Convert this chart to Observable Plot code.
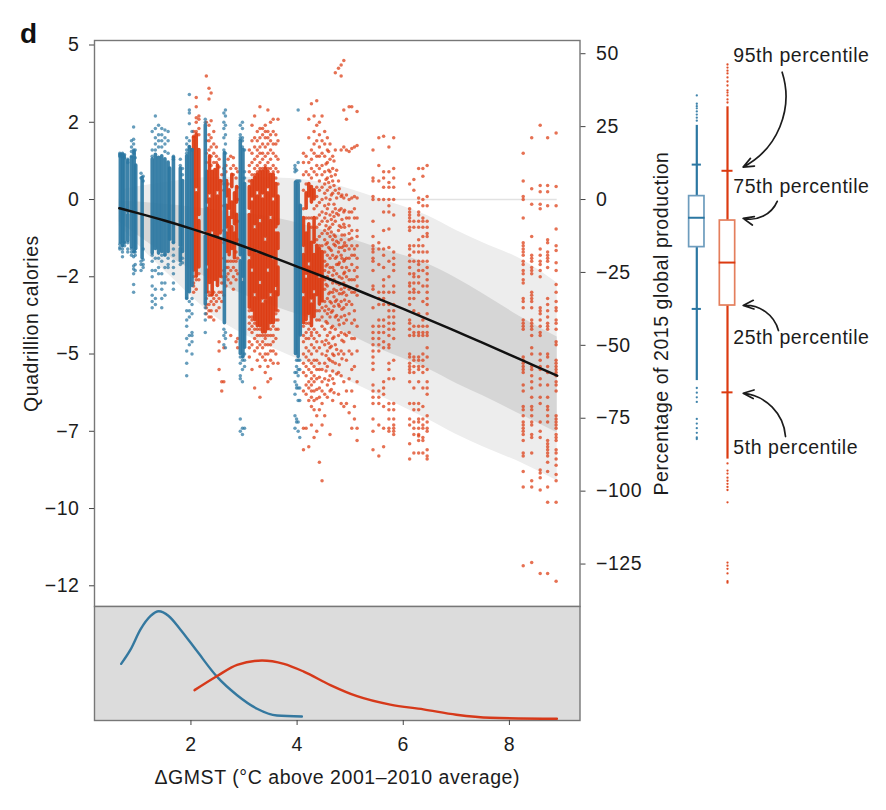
<!DOCTYPE html>
<html><head><meta charset="utf-8">
<script src="https://cdn.jsdelivr.net/npm/d3@7"></script>
<script src="https://cdn.jsdelivr.net/npm/@observablehq/plot@0.6"></script>
<style>
html,body{margin:0;background:#fff}
#chart{position:relative;width:886px;height:810px;overflow:hidden}
#chart svg{position:absolute;left:0;overflow:visible;background:transparent;letter-spacing:.55px}
#panel{position:absolute;left:20px;top:18px;font:bold 28px "Liberation Sans",sans-serif;color:#111}
</style></head><body>
<div id="chart"><div id="panel">d</div></div>
<script>
const blue="#2b77a2", red="#dc3a10", ink="#1c1c1c", edge="#777777";
const bandX=[.65,1.5,2.5,3.6,4.63,5.5,6.45,7,7.5,8.26,8.9];
const outerTop=[.3,.55,.72,.7,.5,.05,-.52,-1,-1.4,-1.97,-2.7];
const darkTop=[-.05,-.15,-.35,-.6,-1.07,-1.55,-2.08,-2.55,-3.05,-3.85,-4.45];
const darkBottom=[-.73,-1.75,-2.7,-3.48,-4.08,-4.8,-5.47,-5.95,-6.35,-7,-7.55];
const outerBottom=[-.85,-2.3,-3.85,-4.85,-5.6,-6.3,-7.1,-7.6,-8,-8.55,-9.1];
const fitX=[.65,1,1.5,2,2.5,3,3.5,4,4.5,5,5.5,6,6.5,7,7.5,8,8.5,8.9];
const fitY=[-.28,-.44,-.68,-.94,-1.22,-1.52,-1.84,-2.17,-2.5,-2.84,-3.19,-3.54,-3.9,-4.27,-4.64,-5.02,-5.4,-5.7];
// runs of overlapping points along one column: x, y top, y bottom
const blueRuns=[[.67,1.45,-1.4],[.71,1.45,-1.5],[.74,1.4,-1.4],[.81,1.25,-.4],[.81,-.5,-1.35],[.88,1.35,-1.55],[.93,1.55,-1.7],[.96,1.1,-1.6],[1.08,.7,-1.9],
[1.27,1.3,-1.75],[1.33,1.45,-1.6],[1.39,1.35,-1.75],[1.45,1.4,-1.7],[1.51,1.3,-1.8],[1.57,1.2,-1.7],[1.6,1,-1.3],[1.67,1.35,-1.4],[1.8,1,-1.5],[1.8,-1.6,-2],[1.84,.6,-1.7],
[1.92,1.4,-3.2],[1.97,1.7,-3],[2.02,1.6,-2.8],[2.27,2.4,-1],[2.27,-1.2,-3.4],[2.63,1.5,-4],[2.93,1.9,-1.8],[2.93,-2,-5],[2.98,1.6,-2.5],[2.98,-2.7,-5.1],[3.01,.5,-4.8],[3.97,.55,-5],[4.02,.5,-5.1],[4.06,-.2,-4.4]];
const redRuns=[[2.05,2,-2.3],[2.1,2.1,.4],[2.1,.2,-2.5],[2.15,1.6,-.5],[2.15,-.7,-2.2],
[2.3,.9,-.1],[2.3,-.3,-2.1],[2.3,-2.3,-3],[2.35,1.4,.2],[2.35,0,-2.7],[2.4,.9,-1],[2.4,-1.2,-3.1],[2.45,.95,-2.6],[2.5,1.1,.3],[2.5,.1,-2.8],[2.55,.6,-1.1],[2.55,-1.3,-2.5],
[2.67,.6,.1],[2.67,-.2,-.9],[2.67,-1.1,-1.7],[2.72,.3,-.3],[2.72,-.6,-1.8],[2.77,.8,.4],[2.77,-.1,-.6],[2.77,-.9,-1.6],[2.82,.2,-.8],[2.82,-1.1,-1.9],[2.86,.4,-.1],[2.86,-.5,-1.4],
[3.1,.4,-.3],[3.1,-.5,-1.8],[3.1,-2,-3.5],[3.15,.6,.1],[3.15,-.1,-2.2],[3.15,-2.4,-3.6],[3.2,.7,-.8],[3.2,-1,-3],[3.2,-3.2,-3.9],[3.25,.8,.3],[3.25,.1,-1.6],[3.25,-1.8,-4.1],[3.3,.9,-.6],[3.3,-.8,-2.6],[3.3,-2.8,-4.1],[3.35,.9,.2],[3.35,0,-3.2],[3.35,-3.4,-4.3],[3.4,1,-1.2],[3.4,-1.4,-3.2],[3.4,-3.3,-4.3],[3.45,.9,.4],[3.45,.2,-2.2],[3.45,-2.4,-4.2],[3.5,.8,-.5],[3.5,-.7,-3],[3.5,-3.2,-4],[3.55,.8,.1],[3.55,-.1,-1.8],[3.55,-2,-4],[3.6,.5,-.9],[3.6,-1.1,-2.8],[3.6,-3,-3.6],[3.64,.1,-.8],[3.64,-1.1,-1.6],[3.64,-2.2,-3.1],
[4.12,-.6,-1.5],[4.12,-1.8,-3],[4.12,-3.2,-4],[4.17,.2,-.3],[4.17,-1.1,-2.4],[4.17,-2.6,-3.9],[4.22,.5,.1],[4.22,-.8,-2],[4.22,-2.2,-3.7],[4.27,.4,-.1],[4.27,-1.4,-3.2],[4.27,-3.4,-4.1],[4.32,.3,0],[4.32,-.6,-1.4],[4.32,-1.8,-2.9],[4.32,-3.1,-3.8],[4.37,-1.5,-3.1],[4.42,-1.6,-2.4],[4.42,-2.6,-3.4],[4.47,-1.7,-3.3]];
const blueColumns=[
[.66,[1.5,1.45,1.4,-1.45,-1.55,-1.6]],[.71,[1.5,1.4,-1.5,-1.6,-1.7,-1.85]],[.75,[1.45,1.35,-1.4,-1.5]],[.81,[1.3,1.2,-1.4,-1.6,-1.7]],
[.88,[1.9,1.7,1.55,1.4,-1.6,-1.7,-1.8]],[.92,[2.35,1.95,1.8,1.6,1.5,-1.7,-1.85,-2.15,-2.25,-2.4,-2.75,-3]],[.95,[1.6,1.35,-1.7,-1.8,-2.1,-2.3]],
[1.06,[.85,.7,-2,-2.1,-2.3]],[1.1,[.75,.6,-1.6,-1.95,-2.1,-2.2]],
[1.27,[2.2,1.6,1.4,-1.8,-2,-2.3,-2.5,-2.8,-3.1,-3.3,-3.5]],[1.33,[2.7,2.3,2,1.8,1.6,-1.9,-2.3,-2.9,-3.2,-3.4]],[1.39,[2.4,2.1,1.9,1.7,-1.9,-2.2,-2.4]],[1.45,[2.3,2.1,1.9,1.7,-1.8,-2,-2.4,-2.7,-2.9,-3.2,-3.5]],[1.51,[2.25,2,1.8,1.55,-1.8,-2.2,-2.7,-3.1]],[1.57,[2.2,1.9,1.5,-1.9,-2.1,-2.2]],
[1.67,[1.4,1.3,-1.4,-1.6,-1.8,-2,-2.2,-2.4,-2.7,-2.9]],[1.8,[1.3,1.1,-2.1]],[1.84,[1,.8,-1.9,-2.05]],
[1.92,[1.5,1.6,1.8,2,-3.2,-3.6,-3.9,-4.1,-4.5,-4.9,-5.3,-5.7]],[1.97,[3.4,2.9,2.8,2.45,1.9,1.7,-3.3,-3.6,-3.8,-4.4,-4.7]],[2.02,[2.2,1.6,-3.2,-3.4,-3.7,-4.3,-4.4,-4.6,-5]],
[2.27,[2.5,2.6,-3.5,-3.7,-3.9,-4.3]],[2.62,[2.8,2.5,2.3,2,1.6,-4.2,-4.4,-4.7]],[2.65,[2.9,2.7,2.4,2.1,1.8,1.5,-4.3,-4.5,-4.8]],
[2.93,[2.4,2.1,2,-5.1,-5.3,-5.7,-5.8,-7.1,-7.5]],[2.97,[2.5,2.3,2,1.9,1.7,-5.1,-5.2,-5.5,-5.9,-7.4,-7.6]],[3.01,[1.6,.9,.7,-5,-5.2,-5.4,-7.4]],
[3.96,[1.1,1,.9,-5.6,-5.9,-6.3,-7,-7.4]],[3.99,[.95,.6,-5.2,-5.4,-5.6,-6,-6.1,-7.1,-7.2]],[4.02,[2.9,1.2,.6,-5.2,-5.5,-5.7,-6.1,-6.5,-7.2,-7.5]],[4.05,[.6,-5.2,-5.5,-6.1,-6.5,-7.7]]];
const redColumns=[
[2.05,[2.2,2.05,-2.5,-2.7,-2.8,-3]],[2.1,[3.3,3,2.65,2.5,2.2,-2.6,-2.9]],[2.15,[2.7,2.6,2.3,2.1,-2.4,-2.6]],
[2.29,[4,2.5,1.9,1.5,1.2,-3.2,-3.5,-3.7,-3.4,-3]],[2.34,[3.6,3.25,2.4,2.1,1.9,1.6,-3,-3.1,-3.4,-3.6,-3.8]],[2.38,[3.45,2.55,2,1.7,1.4,1.1,-3.1,-3.3,-3.6,-3.8]],[2.43,[2.2,1.8,1.5,1.2,-3,-3.2,-3.4,-3.9]],[2.48,[1.7,1.4,1.2,-3.1,-3.3,-3.6]],[2.53,[1.3,1.05,-3,-3.2,-3.5,-4.6,-4.9,-5.5]],[2.58,[.8,.6,-2.5,-2.7,-3,-3.3,-5.9,-6.2]],[2.62,[1,.8,.5,.3,-.2,-1,-1.4,-1.9,-2.3,-2.7,-3.1,-4.8,-5.9]],
[2.66,[1.1,.9,-2,-2.2,-2.5,-2.8]],[2.7,[1.3,.5,-2,-2.2,-2.4,-2.6]],[2.75,[1.4,1,-2,-2.3,-2.7,-4.4]],[2.8,[1.35,1.1,.8,-2,-2.2,-2.5,-2.9]],[2.85,[1,.7,-1.7,-2,-2.3,-2.6,-4.6]],[2.88,[.9,.4,0,-.7,-1.3,-1.9,-2.4,-4.5,-4.8]],
[3.1,[1.6,1.1,.9,.6,-3.6,-3.8,-4,-4.2,-4.6,-4.8,-5.1]],[3.15,[2.4,1.9,1.5,1.2,.8,-3.8,-3.9,-4.1,-4.3,-4.7,-5.5]],[3.2,[2.7,2,1.7,1.3,1,.8,-4,-4.2,-4.5,-4.9,-6.1]],[3.25,[2.2,1.9,1.6,1.4,1.1,.9,-4.2,-4.4,-4.6,-4.8,-5.2]],[3.3,[3,2.3,2,1.7,1.5,1.2,1,-4.2,-4.4,-4.7,-5,-5.4,-6.4]],[3.35,[2.3,2.1,1.8,1.5,1.3,1,-4.4,-4.6,-4.8,-5.1]],[3.4,[2.4,2.2,2,1.7,1.4,1.1,-4.4,-4.5,-4.7,-5,-5.2,-5.6]],[3.45,[2.9,2.2,2,1.8,1.5,1.2,1,-4.4,-4.7,-5,-5.4,-5.9]],[3.5,[2.5,2.1,1.9,1.6,1.3,1,-4.2,-4.4,-4.7,-4.9,-5.2,-5.8]],[3.55,[2.6,2.2,1.8,1.5,1.1,.9,-4.1,-4.4,-4.6,-4.9,-5.3]],[3.6,[2.1,1.8,1.4,1,.7,-3.7,-3.9,-4.2,-4.5,-5]],[3.64,[2.6,1.9,1.3,.9,.5,-3.6,-3.9,-4.2,-5.3]],
[4.12,[1.5,1.2,.8,.3,-.3,-4.1,-4.4,-4.6,-5,-5.3,-5.6,-6.2,-7.4,-8.1]],[4.17,[1.4,.9,.5,-.6,-4,-4.3,-4.5,-4.8,-5.1,-5.4,-5.7,-6,-6.3,-7.4]],[4.22,[2.6,2,1.2,.8,-.6,-4,-4.2,-4.5,-4.9,-5.2,-5.5,-5.9,-6.1,-6.5,-8]],[4.27,[3.1,1.6,1.3,1,.7,-.6,-.9,-4.3,-4.4,-4.7,-5,-5.3,-5.6,-5.8,-6,-6.2,-6.4,-6.7,-7.3]],[4.32,[2.7,2.2,1.8,1.5,.9,-.3,-4.2,-4.5,-4.8,-5.2,-5.4,-5.7,-5.9,-6.2,-6.5,-6.8,-7.7]],[4.37,[3.2,2.4,1.9,1.4,1.1,.8,.4,.1,-.2,-.6,-.9,-1.3,-3.6,-3.9,-4.3,-4.6,-4.9,-5.2,-5.5,-5.8,-6.15,-6.45,-7,-7.5]],[4.42,[2.5,2.1,1.7,1.4,1,.6,.3,-.1,-.5,-.8,-1.2,-1.5,-3.6,-3.9,-4.4,-4.8,-5.3,-5.5,-5.75,-6.1,-6.4,-6.8,-8.5]],[4.47,[2.7,1.9,1.5,1.1,.8,.4,0,-.4,-.7,-1.1,-1.5,-3.5,-3.8,-4.1,-4.6,-5,-5.5,-5.9,-6.2,-6.6,-7.3,-9.1]],[4.52,[2.2,1.8,1.4,.9,.5,.2,-.2,-.6,-1,-1.3,-1.7,-2,-2.3,-2.6,-2.9,-3.3,-3.6,-4.2,-4.7,-5.3,-5.8,-6.3,-7]],[4.57,[2,1.6,1.2,.7,.3,-.3,-.7,-1.1,-1.4,-1.8,-2.1,-2.5,-2.8,-3.2,-3.7,-4,-4.4,-4.9,-5.4,-6,-6.4]],[4.62,[1.8,1.3,.9,.4,0,-.5,-.9,-1.2,-1.6,-1.9,-2.2,-2.6,-3,-3.3,-3.8,-4.3,-4.8,-5.2,-5.7,-6.2,-7.6]],[4.67,[1.4,1,.6,.2,-.4,-.8,-1.3,-1.8,-2.2,-2.45,-2.7,-3,-3.6,-4.1,-4.5,-5,-5.25,-5.55,-5.8,-6.5]],
[4.545,[1.15,.65,.05,-.45,-.85,-1.45,-2.15,-2.75,-3.45,-3.95,-4.55,-5.05,-5.55]],[4.595,[1.55,.95,.55,-.15,-.95,-1.55,-2.35,-3.05,-3.55,-4.65,-5.15,-5.85]],[4.645,[.75,.15,-.65,-1.05,-1.65,-3.35,-3.65,-4.15,-4.75,-6.15]],[4.695,[1.25,.45,-.15,-.55,-1.15,-1.45,-2.3,-2.6,-2.9,-3.15,-3.45,-4.45,-5.05,-5.95,-6.25]],[4.745,[.95,.05,-.45,-1.35,-1.85,-2.1,-2.4,-2.7,-2.95,-3.25,-3.75,-4.85,-5.65]],[4.795,[.35,-.35,-.85,-1.55,-2.05,-2.5,-2.75,-3.05,-3.45,-4.05,-5.35]],[4.845,[.15,-.65,-1.15,-1.55,-1.9,-2.2,-2.55,-3.05,-3.55,-4.55,-5.15]],[4.895,[-.35,-.9,-1.15,-1.4,-1.65,-1.95,-2.35,-2.85,-3.25,-3.75,-4.35]],
[4.72,[4.1,1.6,.8,.3,-.3,-.7,-1.2,-1.5,-1.9,-3.3,-3.8,-4.2,-4.7,-5.3]],[4.78,[4.25,.6,.2,-.5,-1,-1.4,-1.7,-2.1,-3.4,-3.9,-4.4,-5,-5.6,-6.3]],[4.83,[4.35,4,1.6,.1,-.3,-.9,-1.3,-1.8,-2.9,-3.3,-3.8,-4.3,-4.9,-5.7,-6.6]],[4.88,[4.5,2.9,1.7,.05,-.4,-.8,-1.5,-2,-2.4,-2.7,-3,-3.5,-4,-4.6,-5,-5.9,-6.7]],[4.93,[2.6,1.6,.15,-.6,-1.5,-1.9,-2.2,-2.5,-2.8,-3.1,-3.4,-3.9,-4.4,-5.2,-6.2,-6.6]],[4.98,[3,1.55,0,-.4,-.6,-.85,-1.1,-1.3,-1.6,-1.9,-2.3,-2.6,-2.9,-3.3,-3.7,-4.3,-4.9,-5.8,-6.9]],[5.03,[3,1.65,.05,-.4,-1,-1.25,-1.5,-1.8,-2.1,-2.6,-3,-3.4,-4,-4.5,-5,-5.5,-6.2,-7.4]],[5.08,[1.7,.1,-.3,-.6,-1.6,-1.8,-2.3,-2.6,-3,-3.6,-3.9,-4.5,-5.4,-6.7,-7.1]],[5.13,[2.85,1.75,.05,-.6,-1,-1.2,-1.5,-1.9,-2.2,-2.5,-2.8,-3.1,-4.1,-4.9,-5.9,-7.4,-7.8]],
[5.43,[1.6,.7,.6,.1,0,-.7,-1.2,-1.5,-1.6,-1.7,-1.9,-2,-2.3,-2.8,-2.9,-3.5,-4.1,-4.3,-4.5,-4.7,-4.9,-5.1,-5.3,-5.5,-6,-6.2,-6.4,-6.6,-7.1,-7.5,-8.1]],
[5.54,[2,1.1,.6,0,-1.4,-1.6,-2.1,-3,-3.2,-3.4,-3.9,-4.1,-4.3,-4.5,-4.7,-4.9,-6.2,-6.4,-6.6,-7.3,-8.3]],
[5.63,[2.05,.9,.7,.4,0,-.4,-1,-1.6,-1.8,-2.2,-2.6,-2.8,-3,-3.2,-3.4,-3.9,-4.1,-4.3,-4.6,-4.8,-5.9,-6.1,-6.3,-6.7,-7.4,-8]],
[5.73,[1.7,.9,.55,.4,0,-.2,-.4,-.95,-1.55,-2,-2.5,-3,-3.4,-3.6,-3.8,-4,-4.2,-4.4,-4.7,-4.8,-5.3,-5.5,-5.8,-6.6,-6.8,-7.1,-7.5,-7.4]],
[5.82,[2,1,.7,.4,0,-.5,-1.7,-1.9,-2.1,-2.3,-2.8,-3,-3.4,-3.6,-3.8,-4,-4.2,-4.5,-5.2,-5.8,-6.6,-6.8,-7.1,-7.3,-7.4,-7.6,-7.5]],
[6.12,[.5,-.3,-.4,-.5,-.6,-.7,-.9,-1,-1.5,-1.6,-1.8,-2,-2.2,-2.4,-2.7,-2.8,-3,-3.2,-3.4,-3.9,-4,-4.2,-4.4,-5,-5.1,-5.3,-5.4,-5.5,-5.6,-5.9,-6.6,-7.1,-7.3,-7.9,-8.4]],
[6.2,[.65,.3,-.7,-.9,-1.5,-1.7,-2,-2.4,-2.5,-2.7,-2.9,-3,-3.2,-3.6,-4.1,-4.3,-4.4,-5.1,-5.2,-5.4,-5.6,-6.1,-6.6,-6.8,-7.2,-7.4,-7.6,-8.2]],
[6.29,[1,.05,-.1,-.4,-.5,-.7,-.9,-1.3,-1.5,-1.7,-2,-2.1,-2.3,-2.5,-2.7,-3,-3.7,-4.1,-4.3,-4.4,-5.1,-5.2,-5.4,-5.5,-5.9,-6.6,-6.8,-7.1,-7.6,-7.2,-7.4,-7.65,-7.8,-8.2]],
[6.37,[1,.75,0,-.2,-.6,-.7,-.9,-1.2,-1.5,-1.7,-2,-2.3,-2.8,-3.3,-3.9,-4.1,-4.3,-4.4,-5,-5.2,-5.4,-5.6,-6.1,-6.7,-7.1,-7.4,-7.7,-7.3,-7.8,-8.2]],
[6.45,[1.1,.1,-.2,-.7,-.9,-1.1,-1.2,-1.7,-2,-2.2,-2.4,-2.6,-2.8,-3,-3.2,-3.4,-3.7,-4.1,-4.3,-4.4,-4.8,-5.1,-5.5,-5.9,-6.1,-6.3,-7,-7.5,-7.2,-7.4,-8.1,-8.3,-8.4]],
[8.26,[1.5,.6,.1,0,-.6,-1.4,-1.5,-1.6,-1.7,-1.8,-2,-2.1,-2.3,-2.4,-2.6,-2.7,-3.2,-3.3,-3.5,-3.9,-4,-4.1,-4.2,-5.1,-5.2,-5.3,-5.4,-5.5,-5.6,-6,-6.2,-6.7,-6.8,-7,-7.2,-7.3,-7.4,-7.5,-7.6,-7.8,-8.2,-8.3,-8.8,-9.3,-11.85]],
[8.42,[2,.35,-.15,-1.2,-1.8,-1.9,-2,-2.2,-2.3,-2.4,-3,-3.1,-3.2,-3.3,-3.5,-3.9,-4,-4.1,-4.2,-4.4,-4.8,-5,-5.4,-5.5,-5.7,-5.9,-6.1,-6.4,-6.7,-6.8,-7,-7.2,-7.3,-7.6,-7.7,-8.2,-9.1,-9.3,-11.75]],
[8.58,[2.4,.45,.25,-.15,-.3,-1.6,-1.8,-2,-2.1,-2.3,-2.5,-3.5,-3.6,-3.7,-3.9,-4.1,-4.3,-4.4,-5,-5.2,-5.4,-5.5,-5.8,-6,-6.4,-6.6,-7.2,-7.5,-7.7,-8.75,-8.85,-9,-9.4,-12.1]],
[8.72,[2,.45,.25,-.2,-1.3,-1.4,-1.7,-1.8,-1.9,-2,-2.2,-3.2,-3.4,-3.6,-3.8,-4,-4.1,-4.2,-5,-5.1,-5.4,-5.6,-6,-6.4,-6.7,-6.8,-7,-7.2,-7.8,-7.9,-8,-8.1,-8.2,-8.3,-8.5,-8.8,-9.3,-9.8,-12.1]],
[8.88,[2.15,.42,-.2,-.95,-1.5,-1.65,-2.05,-2.3,-2.75,-3,-3.3,-3.5,-3.6,-3.9,-4,-4.2,-4.6,-4.7,-5.2,-5.3,-5.4,-5.5,-5.6,-5.7,-5.9,-6,-6.2,-7,-7.1,-7.2,-7.3,-7.4,-7.6,-7.7,-7.8,-8.1,-8.2,-8.4,-8.6,-8.9,-9.1,-9.8,-12.35]]];
const caloriesTicks=[5,2.5,0,-2.5,-5,-7.5,-10,-12.5];
const caloriesLabels=["5","2","0","−2","−5","−7","−10","−12"];
const percentTicks=[50,25,0,-25,-50,-75,-100,-125];
const percentLabels=["50","25","0","−25","−50","−75","−100","−125"];
const caloriesPerPercent=0.09437;
const gmstTicks=[2,4,6,8];
const blueDensityX=[.685,.861,1.05,1.24,1.394,1.58,1.8,2.117,2.49,2.87,3.245,3.62,4.09];
const blueDensityY=[.168,.21,.27,.31,.324,.31,.27,.205,.13,.075,.035,.015,.012];
const redDensityX=[2.067,2.494,2.87,3.34,3.75,4.125,4.627,5.13,5.755,6.38,7,7.64,8.895];
const redDensityY=[.09,.132,.165,.178,.168,.145,.105,.072,.047,.033,.017,.008,.005];
const boxPositions=[1,2];
const boxColors=[blue,red];
const boxEdges=["#6d9cbd","#e47f5d"];
const p95=[1.13,.93], p75=[.11,-.68], p50=[-.59,-2.04], p25=[-1.54,-3.43], p5=[-3.54,-6.24];
const stemTop=[2.4,3], stemBottom=[-5.86,-8.4];
const blueTail=[3.37,3.1,3.02,2.95,2.85,2.75,2.65,2.55,-6.1,-6.25,-6.4,-6.55,-7.1,-7.25,-7.4,-7.55,-7.7,-7.75];
const redTail=[4.37,4.27,4.17,4.08,3.95,3.82,3.69,3.53,3.46,3.37,3.24,3.14,-8.54,-8.77,-8.87,-9,-9.1,-9.2,-9.3,-9.4,-9.8,-11.75,-11.85,-11.95,-12.1,-12.35,-12.4];
const noteLabels=["95th percentile","75th percentile","25th percentile","5th percentile"];
const noteX=2.19, noteY=[4.66,.42,-4.47,-8.03];
const arrowFrom=[[3.78,4.12],[3.62,-.06],[3.66,-4.24],[3.89,-7.67]];
const arrowTo=[[2.51,1.05],[2.51,-.61],[2.51,-3.43],[2.51,-6.27]];
const arrowBend=[40,40,-40,-40];

const font={fontFamily:'"Liberation Sans",Arial,sans-serif',fontSize:"19.5px",color:ink,background:"transparent"};
const xDomain=[0.183,9.33], xRange=[94,579.5];
const yDomain=[-13.17,5.146], yRange=[606,40];
const rows=(xs,...cols)=>xs.map((x,i)=>[x,...cols.map(c=>c[i])]);
const band=rows(bandX,outerTop,darkTop,darkBottom,outerBottom);
const flat=cols=>cols.flatMap(([x,ys])=>ys.map(y=>[x,y]));
const lookup=(t,l)=>new Map(t.map((d,i)=>[d,l[i]]));
const pctAt=percentTicks.map(p=>p*caloriesPerPercent);
const calLabel=lookup(caloriesTicks,caloriesLabels), pctLabel=lookup(pctAt,percentLabels);
const runMark=(runs,stroke)=>Plot.ruleX(runs,{x:d=>d[0],y1:d=>d[1],y2:d=>d[2],stroke,strokeWidth:3.6,strokeOpacity:.92,strokeLinecap:"round"});
const dotMark=(cols,fill)=>Plot.dot(flat(cols),{x:d=>d[0],y:d=>d[1],r:1.75,fill,fillOpacity:.72,stroke:"none"});

const main=Plot.plot({width:886,height:606,marginTop:40,marginBottom:0,marginLeft:94,marginRight:306.5,style:font,
 x:{domain:xDomain,range:xRange,axis:null},y:{domain:yDomain,range:yRange},
 marks:[
  Plot.ruleY([0],{x1:bandX[0],x2:bandX[bandX.length-1],stroke:"#e2e2e2",strokeWidth:1.6}),
  Plot.areaY(band,{x:d=>d[0],y1:d=>d[1],y2:d=>d[4],fill:"#ededed",curve:"monotone-x"}),
  Plot.areaY(band,{x:d=>d[0],y1:d=>d[2],y2:d=>d[3],fill:"#d6d6d6",curve:"monotone-x"}),
  runMark(redRuns,red),dotMark(redColumns,red),
  runMark(blueRuns,blue),dotMark(blueColumns,blue),
  Plot.line(rows(fitX,fitY),{x:d=>d[0],y:d=>d[1],stroke:"#111",strokeWidth:2.5,curve:"monotone-x"}),
  Plot.frame({stroke:edge,strokeWidth:1.4}),
  Plot.axisY({anchor:"left",ticks:caloriesTicks,tickFormat:d=>calLabel.get(d),tickSize:5,tickPadding:10,stroke:"#444",label:"Quadrillion calories",labelAnchor:"center",labelArrow:"none",labelOffset:70}),
  Plot.axisY({anchor:"right",ticks:pctAt,tickFormat:d=>pctLabel.get(d),tickSize:5,tickPadding:11,stroke:"#444",label:"Percentage of 2015 global production",labelAnchor:"center",labelArrow:"none",labelOffset:88})
 ]});
main.style.top="0px";

const lower=Plot.plot({width:886,height:184,marginTop:0,marginBottom:70,marginLeft:94,marginRight:306.5,style:font,
 x:{domain:xDomain,range:xRange},y:{domain:[0,.338],axis:null},
 marks:[
  Plot.frame({fill:"#dcdcdc",stroke:edge,strokeWidth:1.4}),
  Plot.line(rows(blueDensityX,blueDensityY),{x:d=>d[0],y:d=>d[1],stroke:"#34789f",strokeWidth:2.4,curve:"monotone-x"}),
  Plot.line(rows(redDensityX,redDensityY),{x:d=>d[0],y:d=>d[1],stroke:"#d6391a",strokeWidth:2.4,curve:"monotone-x"}),
  Plot.axisX({ticks:gmstTicks,tickSize:5,tickPadding:12,stroke:"#444",tickFormat:d=>String(d),label:"ΔGMST (°C above 2001–2010 average)",labelAnchor:"center",labelArrow:"none",labelOffset:63})
 ]});
lower.style.top="606px";

const boxRows=boxPositions.map((b,i)=>({b,color:boxColors[i],edge:boxEdges[i],p95:p95[i],p75:p75[i],p50:p50[i],p25:p25[i],p5:p5[i],top:stemTop[i],bottom:stemBottom[i],half:i?.36:.3}));
const tails=[...blueTail.map(y=>({b:1,y,c:blue})),...redTail.map(y=>({b:2,y,c:red}))];
const notes=noteLabels.map((t,i)=>({t,y:noteY[i]}));
const arrow=i=>Plot.arrow([i],{x1:arrowFrom[i][0],y1:arrowFrom[i][1],x2:arrowTo[i][0],y2:arrowTo[i][1],bend:arrowBend[i],stroke:"#1c1c1c",strokeWidth:1.7,headLength:10,headAngle:45});
const side=Plot.plot({width:886,height:606,marginTop:40,marginBottom:0,marginLeft:0,marginRight:0,style:font,
 x:{domain:[1,2],range:[696.3,727],axis:null},y:{domain:yDomain,range:yRange,axis:null},
 marks:[
  Plot.dot(tails,{x:"b",y:"y",r:1.15,fill:"c",fillOpacity:.9}),
  Plot.ruleX(boxRows,{x:"b",y1:"top",y2:"p75",stroke:"color",strokeWidth:2.2}),
  Plot.ruleX(boxRows,{x:"b",y1:"p25",y2:"bottom",stroke:"color",strokeWidth:2.2}),
  Plot.rect(boxRows,{x1:d=>d.b-.25,x2:d=>d.b+.25,y1:"p75",y2:"p25",fill:"#fff",stroke:"edge",strokeWidth:1.7}),
  Plot.ruleY(boxRows,{x1:d=>d.b-.27,x2:d=>d.b+.27,y:"p50",stroke:"color",strokeWidth:2}),
  Plot.ruleY(boxRows,{x1:d=>d.b-d.half/2,x2:d=>d.b+d.half/2,y:"p95",stroke:"color",strokeWidth:2}),
  Plot.ruleY(boxRows,{x1:d=>d.b-d.half/2,x2:d=>d.b+d.half/2,y:"p5",stroke:"color",strokeWidth:2}),
  arrow(0),arrow(1),arrow(2),arrow(3),
  Plot.text(notes,{x:noteX,y:"y",text:"t",textAnchor:"start",fontSize:19.5,fill:ink})
 ]});
side.style.top="0px";
document.getElementById("chart").append(main,lower,side);
</script></body></html>
